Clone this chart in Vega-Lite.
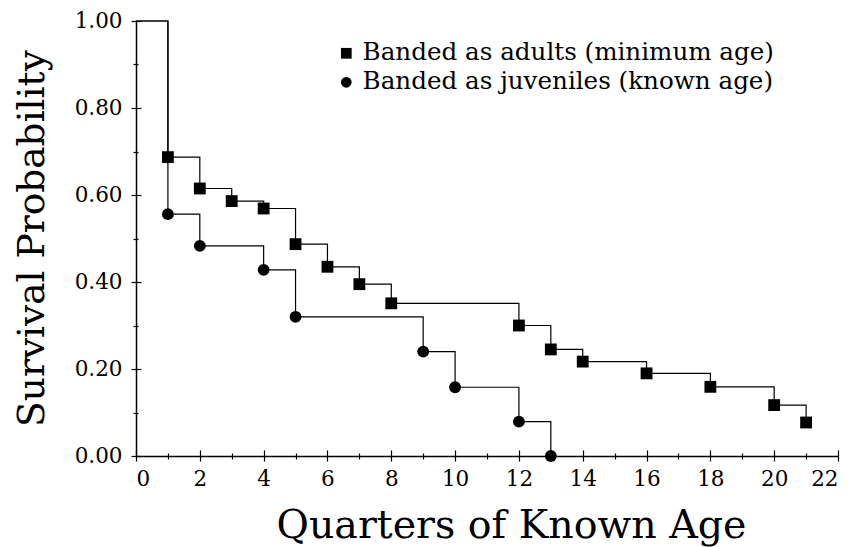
{
  "$schema": "https://vega.github.io/schema/vega-lite/v6.json",
  "width": 702,
  "height": 435,
  "autosize": {"type": "none"},
  "padding": {"left": 136, "top": 21, "right": 17, "bottom": 91},
  "background": "white",
  "config": {
    "view": {"stroke": null},
    "font": "DejaVu Serif",
    "axis": {
      "domainColor": "black",
      "domainWidth": 1.5,
      "tickColor": "black",
      "tickWidth": 1.2,
      "gridColor": "black",
      "gridWidth": 1.2,
      "gridOpacity": 1,
      "labelColor": "black",
      "titleColor": "black",
      "labelFont": "DejaVu Serif",
      "titleFont": "DejaVu Serif",
      "labelFontWeight": "normal",
      "titleFontWeight": "normal"
    },
    "legend": {
      "labelFont": "DejaVu Serif",
      "labelColor": "black"
    }
  },
  "data": {
    "values": [
      {"series": "Banded as adults (minimum age)", "q": 0, "p": 1.0},
      {"series": "Banded as adults (minimum age)", "q": 1, "p": 0.687},
      {"series": "Banded as adults (minimum age)", "q": 2, "p": 0.615},
      {"series": "Banded as adults (minimum age)", "q": 3, "p": 0.586},
      {"series": "Banded as adults (minimum age)", "q": 4, "p": 0.569},
      {"series": "Banded as adults (minimum age)", "q": 5, "p": 0.487},
      {"series": "Banded as adults (minimum age)", "q": 6, "p": 0.435},
      {"series": "Banded as adults (minimum age)", "q": 7, "p": 0.395},
      {"series": "Banded as adults (minimum age)", "q": 8, "p": 0.351},
      {"series": "Banded as adults (minimum age)", "q": 12, "p": 0.300},
      {"series": "Banded as adults (minimum age)", "q": 13, "p": 0.245},
      {"series": "Banded as adults (minimum age)", "q": 14, "p": 0.217},
      {"series": "Banded as adults (minimum age)", "q": 16, "p": 0.190},
      {"series": "Banded as adults (minimum age)", "q": 18, "p": 0.159},
      {"series": "Banded as adults (minimum age)", "q": 20, "p": 0.117},
      {"series": "Banded as adults (minimum age)", "q": 21, "p": 0.077},
      {"series": "Banded as juveniles (known age)", "q": 0, "p": 1.0},
      {"series": "Banded as juveniles (known age)", "q": 1, "p": 0.556},
      {"series": "Banded as juveniles (known age)", "q": 2, "p": 0.483},
      {"series": "Banded as juveniles (known age)", "q": 4, "p": 0.428},
      {"series": "Banded as juveniles (known age)", "q": 5, "p": 0.320},
      {"series": "Banded as juveniles (known age)", "q": 9, "p": 0.240},
      {"series": "Banded as juveniles (known age)", "q": 10, "p": 0.158},
      {"series": "Banded as juveniles (known age)", "q": 12, "p": 0.079},
      {"series": "Banded as juveniles (known age)", "q": 13, "p": 0.0}
    ]
  },
  "encoding": {
    "x": {
      "field": "q",
      "type": "quantitative",
      "scale": {"domain": [0, 22], "nice": false, "zero": false},
      "axis": {
        "title": "Quarters of Known Age",
        "values": [0,1,2,3,4,5,6,7,8,9,10,11,12,13,14,15,16,17,18,19,20,21,22],
        "labelExpr": "datum.value % 2 == 0 ? format(datum.value, 'd') : ''",
        "labelFontSize": 21.5,
        "labelPadding": 7,
        "labelBaseline": "top",
        "tickSize": {"condition": {"test": "datum.value % 2 == 0", "value": 5}, "value": 3},
        "grid": true,
        "gridDash": {"condition": {"test": "datum.value % 2 == 0", "value": [0, 429, 6, 3000]}, "value": [0, 432, 3, 3000]},
        "titleFontSize": 39.5,
        "titleX": 375,
        "titleY": 81,
        "titleAlign": "center",
        "titleBaseline": "alphabetic"
      }
    },
    "y": {
      "field": "p",
      "type": "quantitative",
      "scale": {"domain": [0, 1], "nice": false},
      "axis": {
        "title": "Survival Probability",
        "values": [0, 0.1, 0.2, 0.3, 0.4, 0.5, 0.6, 0.7, 0.8, 0.9, 1.0],
        "labelExpr": "round(datum.value * 10) % 2 == 0 ? format(datum.value, '.2f') : ''",
        "labelFontSize": 21.5,
        "labelPadding": 9,
        "tickSize": {"condition": {"test": "round(datum.value * 10) % 2 == 0", "value": 5}, "value": 3},
        "grid": true,
        "gridDash": {"condition": {"test": "round(datum.value * 10) % 2 == 0", "value": [5, 3000]}, "value": [2, 3000]},
        "titleFontSize": 37.5,
        "titleX": -93,
        "titleY": 217,
        "titleAngle": -90,
        "titleAlign": "center",
        "titleBaseline": "alphabetic"
      }
    }
  },
  "layer": [
    {
      "mark": {"type": "line", "interpolate": "step-after", "color": "black", "strokeWidth": 1.2},
      "encoding": {"detail": {"field": "series", "type": "nominal"}}
    },
    {
      "transform": [{"filter": "datum.q > 0"}],
      "mark": {"type": "point", "filled": true, "color": "black", "opacity": 1, "size": 140},
      "encoding": {
        "shape": {
          "field": "series",
          "type": "nominal",
          "scale": {"domain": ["Banded as adults (minimum age)", "Banded as juveniles (known age)"], "range": ["square", "circle"]},
          "legend": {
            "title": null,
            "orient": "none",
            "legendX": 198,
            "legendY": 20,
            "padding": 0,
            "symbolSize": 115,
            "symbolFillColor": "black",
            "symbolStrokeColor": "black",
            "symbolStrokeWidth": 0,
            "labelFont": "DejaVu Serif",
            "labelFontSize": 24.6,
            "labelLimit": 0,
            "labelOffset": 4,
            "rowPadding": 4
          }
        }
      }
    }
  ]
}
